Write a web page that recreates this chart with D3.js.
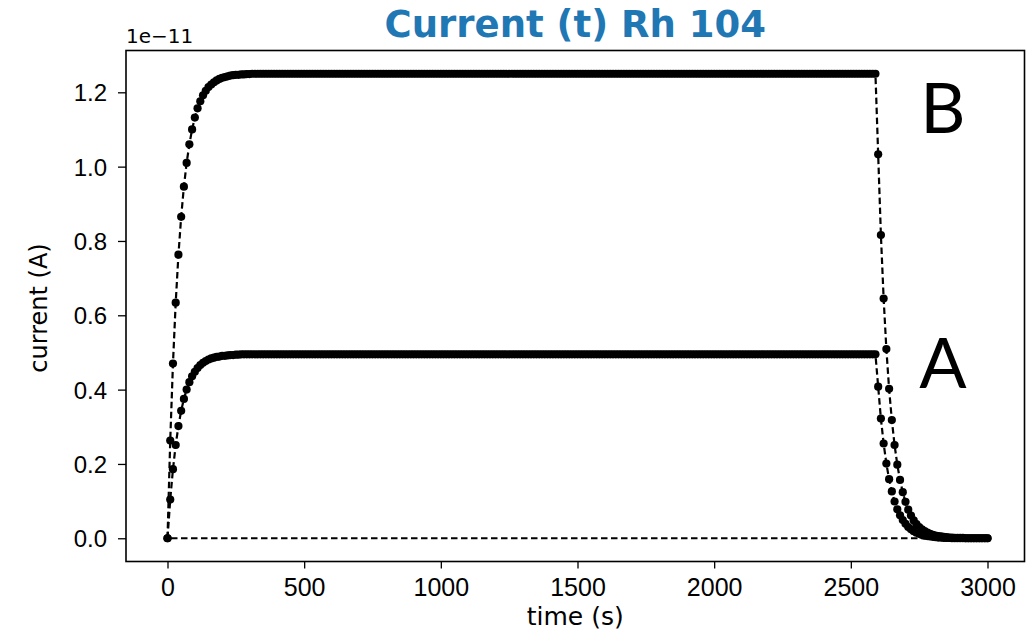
<!DOCTYPE html>
<html>
<head>
<meta charset="utf-8">
<script src="https://cdn.jsdelivr.net/npm/d3@7"></script>
<style>
  body { margin: 0; background: #fff; }
  svg { display: block; }
</style>
</head>
<body>
<div id="chart"></div>
<script>
// sample times (s), one point every 10 s from 0 to 3000
const time = d3.range(0, 3001, 10);

// current in units of 1e-11 A (10 samples per row = 100 s)
const seriesB = [
  0, 0.263, 0.470, 0.634, 0.763, 0.865, 0.946, 1.010, 1.060, 1.100,
  1.132, 1.157, 1.176, 1.192, 1.204, 1.214, 1.221, 1.227, 1.232, 1.236,
  1.239, 1.241, 1.243, 1.245, 1.246, 1.247, 1.247, 1.248, 1.248, 1.249,
  1.249, 1.25, 1.25, 1.25, 1.25, 1.25, 1.25, 1.25, 1.25, 1.25,
  1.25, 1.25, 1.25, 1.25, 1.25, 1.25, 1.25, 1.25, 1.25, 1.25,
  1.25, 1.25, 1.25, 1.25, 1.25, 1.25, 1.25, 1.25, 1.25, 1.25,
  1.25, 1.25, 1.25, 1.25, 1.25, 1.25, 1.25, 1.25, 1.25, 1.25,
  1.25, 1.25, 1.25, 1.25, 1.25, 1.25, 1.25, 1.25, 1.25, 1.25,
  1.25, 1.25, 1.25, 1.25, 1.25, 1.25, 1.25, 1.25, 1.25, 1.25,
  1.25, 1.25, 1.25, 1.25, 1.25, 1.25, 1.25, 1.25, 1.25, 1.25,
  1.25, 1.25, 1.25, 1.25, 1.25, 1.25, 1.25, 1.25, 1.25, 1.25,
  1.25, 1.25, 1.25, 1.25, 1.25, 1.25, 1.25, 1.25, 1.25, 1.25,
  1.25, 1.25, 1.25, 1.25, 1.25, 1.25, 1.25, 1.25, 1.25, 1.25,
  1.25, 1.25, 1.25, 1.25, 1.25, 1.25, 1.25, 1.25, 1.25, 1.25,
  1.25, 1.25, 1.25, 1.25, 1.25, 1.25, 1.25, 1.25, 1.25, 1.25,
  1.25, 1.25, 1.25, 1.25, 1.25, 1.25, 1.25, 1.25, 1.25, 1.25,
  1.25, 1.25, 1.25, 1.25, 1.25, 1.25, 1.25, 1.25, 1.25, 1.25,
  1.25, 1.25, 1.25, 1.25, 1.25, 1.25, 1.25, 1.25, 1.25, 1.25,
  1.25, 1.25, 1.25, 1.25, 1.25, 1.25, 1.25, 1.25, 1.25, 1.25,
  1.25, 1.25, 1.25, 1.25, 1.25, 1.25, 1.25, 1.25, 1.25, 1.25,
  1.25, 1.25, 1.25, 1.25, 1.25, 1.25, 1.25, 1.25, 1.25, 1.25,
  1.25, 1.25, 1.25, 1.25, 1.25, 1.25, 1.25, 1.25, 1.25, 1.25,
  1.25, 1.25, 1.25, 1.25, 1.25, 1.25, 1.25, 1.25, 1.25, 1.25,
  1.25, 1.25, 1.25, 1.25, 1.25, 1.25, 1.25, 1.25, 1.25, 1.25,
  1.25, 1.25, 1.25, 1.25, 1.25, 1.25, 1.25, 1.25, 1.25, 1.25,
  1.25, 1.25, 1.25, 1.25, 1.25, 1.25, 1.25, 1.25, 1.25, 1.25,
  1.033, 0.816, 0.645, 0.509, 0.402, 0.318, 0.251, 0.198, 0.157, 0.124,
  0.098, 0.077, 0.061, 0.048, 0.038, 0.030, 0.024, 0.019, 0.015, 0.012,
  0.009, 0.007, 0.006, 0.005, 0.004, 0.003, 0.002, 0.002, 0.001, 0.001,
  0.001, 0.001, 0, 0, 0, 0, 0, 0, 0, 0,
  0
];

const seriesA = [
  0, 0.104, 0.186, 0.251, 0.302, 0.343, 0.375, 0.400, 0.420, 0.436,
  0.448, 0.458, 0.466, 0.472, 0.477, 0.481, 0.484, 0.486, 0.488, 0.489,
  0.491, 0.491, 0.492, 0.493, 0.493, 0.494, 0.494, 0.495, 0.495, 0.495,
  0.495, 0.495, 0.495, 0.495, 0.495, 0.495, 0.495, 0.495, 0.495, 0.495,
  0.495, 0.495, 0.495, 0.495, 0.495, 0.495, 0.495, 0.495, 0.495, 0.495,
  0.495, 0.495, 0.495, 0.495, 0.495, 0.495, 0.495, 0.495, 0.495, 0.495,
  0.495, 0.495, 0.495, 0.495, 0.495, 0.495, 0.495, 0.495, 0.495, 0.495,
  0.495, 0.495, 0.495, 0.495, 0.495, 0.495, 0.495, 0.495, 0.495, 0.495,
  0.495, 0.495, 0.495, 0.495, 0.495, 0.495, 0.495, 0.495, 0.495, 0.495,
  0.495, 0.495, 0.495, 0.495, 0.495, 0.495, 0.495, 0.495, 0.495, 0.495,
  0.495, 0.495, 0.495, 0.495, 0.495, 0.495, 0.495, 0.495, 0.495, 0.495,
  0.495, 0.495, 0.495, 0.495, 0.495, 0.495, 0.495, 0.495, 0.495, 0.495,
  0.495, 0.495, 0.495, 0.495, 0.495, 0.495, 0.495, 0.495, 0.495, 0.495,
  0.495, 0.495, 0.495, 0.495, 0.495, 0.495, 0.495, 0.495, 0.495, 0.495,
  0.495, 0.495, 0.495, 0.495, 0.495, 0.495, 0.495, 0.495, 0.495, 0.495,
  0.495, 0.495, 0.495, 0.495, 0.495, 0.495, 0.495, 0.495, 0.495, 0.495,
  0.495, 0.495, 0.495, 0.495, 0.495, 0.495, 0.495, 0.495, 0.495, 0.495,
  0.495, 0.495, 0.495, 0.495, 0.495, 0.495, 0.495, 0.495, 0.495, 0.495,
  0.495, 0.495, 0.495, 0.495, 0.495, 0.495, 0.495, 0.495, 0.495, 0.495,
  0.495, 0.495, 0.495, 0.495, 0.495, 0.495, 0.495, 0.495, 0.495, 0.495,
  0.495, 0.495, 0.495, 0.495, 0.495, 0.495, 0.495, 0.495, 0.495, 0.495,
  0.495, 0.495, 0.495, 0.495, 0.495, 0.495, 0.495, 0.495, 0.495, 0.495,
  0.495, 0.495, 0.495, 0.495, 0.495, 0.495, 0.495, 0.495, 0.495, 0.495,
  0.495, 0.495, 0.495, 0.495, 0.495, 0.495, 0.495, 0.495, 0.495, 0.495,
  0.495, 0.495, 0.495, 0.495, 0.495, 0.495, 0.495, 0.495, 0.495, 0.495,
  0.495, 0.495, 0.495, 0.495, 0.495, 0.495, 0.495, 0.495, 0.495, 0.495,
  0.408, 0.322, 0.255, 0.201, 0.159, 0.126, 0.099, 0.078, 0.062, 0.049,
  0.039, 0.030, 0.024, 0.019, 0.015, 0.012, 0.009, 0.007, 0.006, 0.005,
  0.004, 0.003, 0.002, 0.002, 0.001, 0.001, 0.001, 0, 0, 0,
  0, 0, 0, 0, 0, 0, 0, 0, 0, 0,
  0
];

// dashed line joining the last sample back to the first one
const baseTime = [3000, 0];
const baseValues = [0, 0];

const xTicks = [0, 500, 1000, 1500, 2000, 2500, 3000];
const yTicks = [0, 0.2, 0.4, 0.6, 0.8, 1.0, 1.2];

const width = 1031, height = 634;
const box = { left: 126, right: 1024.5, top: 50.5, bottom: 561.5 };

const svg = d3.select('#chart').append('svg')
  .attr('width', width)
  .attr('height', height)
  .style('font-family', '"DejaVu Sans", sans-serif');

const x = d3.scaleLinear().domain([0, 3000]).range([167.5, 987.5]);
const y = d3.scaleLinear().domain([-0.0625, 1.3125]).range([box.bottom, box.top]);

// axes
const xAxis = svg.append('g')
  .attr('transform', `translate(0,${box.bottom})`)
  .call(d3.axisBottom(x).tickValues(xTicks).tickSize(7).tickPadding(10).tickFormat(d3.format('d')));
xAxis.select('.domain').remove();
xAxis.selectAll('line').attr('stroke', '#000').attr('stroke-width', 1.3);
xAxis.selectAll('text').attr('font-size', 25).attr('fill', '#000');

const yAxis = svg.append('g')
  .attr('transform', `translate(${box.left},0)`)
  .call(d3.axisLeft(y).tickValues(yTicks).tickSize(8).tickPadding(11).tickFormat(d3.format('.1f')));
yAxis.select('.domain').remove();
yAxis.selectAll('line').attr('stroke', '#000').attr('stroke-width', 1.3);
yAxis.selectAll('text').attr('font-size', 24).attr('fill', '#000').attr('dy', '0.36em');

// lines and markers
const line = d3.line().x(d => x(d[0])).y(d => y(d[1]));
const plot = svg.append('g');

function drawSeries(values) {
  const pts = values.map((v, i) => [time[i], v]);
  plot.append('path')
    .attr('d', line(pts))
    .attr('fill', 'none')
    .attr('stroke', '#000')
    .attr('stroke-width', 2.2)
    .attr('stroke-dasharray', '6.5,3.5');
  plot.append('g').selectAll('circle')
    .data(pts)
    .enter()
    .append('circle')
    .attr('cx', d => x(d[0]))
    .attr('cy', d => y(d[1]))
    .attr('r', 4.1)
    .attr('fill', '#000');
}

plot.append('path')
  .attr('d', line(baseTime.map((t, i) => [t, baseValues[i]])))
  .attr('fill', 'none')
  .attr('stroke', '#000')
  .attr('stroke-width', 2.2)
  .attr('stroke-dasharray', '6.5,3.5');

drawSeries(seriesA);
drawSeries(seriesB);

// frame
svg.append('rect')
  .attr('x', box.left).attr('y', box.top)
  .attr('width', box.right - box.left).attr('height', box.bottom - box.top)
  .attr('fill', 'none').attr('stroke', '#000').attr('stroke-width', 1.6);

// texts
svg.append('text')
  .attr('x', (box.left + box.right) / 2).attr('y', 37)
  .attr('text-anchor', 'middle')
  .attr('font-size', 37).attr('font-weight', 'bold')
  .attr('fill', '#1f77b4')
  .text('Current (t) Rh 104');

svg.append('text')
  .attr('x', box.left).attr('y', 43)
  .attr('font-size', 20)
  .text('1e\u221211');

svg.append('text')
  .attr('x', (box.left + box.right) / 2).attr('y', 625)
  .attr('text-anchor', 'middle')
  .attr('font-size', 25)
  .text('time (s)');

svg.append('text')
  .attr('transform', 'translate(47,308) rotate(-90)')
  .attr('text-anchor', 'middle')
  .attr('font-size', 24)
  .text('current (A)');

// panel letters added on top of the figure
svg.append('text')
  .attr('x', 943).attr('y', 133)
  .attr('text-anchor', 'middle')
  .attr('font-family', 'Lato, "Open Sans", sans-serif')
  .attr('font-size', 70)
  .text('B');

svg.append('text')
  .attr('x', 943).attr('y', 388)
  .attr('text-anchor', 'middle')
  .attr('font-family', 'Lato, "Open Sans", sans-serif')
  .attr('font-size', 70)
  .text('A');
</script>
</body>
</html>
